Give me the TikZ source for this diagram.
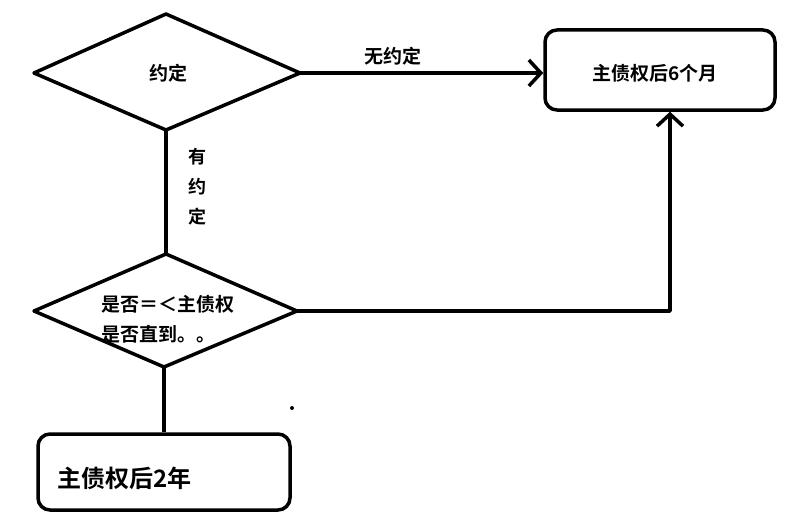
\documentclass[tikz,border=0pt]{standalone}
\usepackage{fontspec}
\setmainfont{Noto Sans CJK SC}[BoldFont={Noto Sans CJK SC Bold}]
\usetikzlibrary{arrows.meta,shapes.geometric}
\begin{document}
\begin{tikzpicture}[x=1pt,y=-1pt,
  ln/.style={line width=3.5pt,line join=round},
  arr/.style={ln,-{Straight Barb[length=12pt,width=26pt,line width=3.5pt]}},
  txt/.style={font=\bfseries\fontsize{19}{22}\selectfont,inner sep=0pt}]
\useasboundingbox (0,0) rectangle (806,527);
% diamonds
\coordinate (d1l) at (34,73); \coordinate (d1t) at (166,14);
\coordinate (d1r) at (300,73); \coordinate (d1b) at (166,130);
\draw[ln] (d1l) -- (d1t) -- (d1r) -- (d1b) -- cycle;
\node[txt] (t1) at (168,73) {约定};
\coordinate (d2l) at (34,311); \coordinate (d2t) at (166,254);
\coordinate (d2r) at (297,311); \coordinate (d2b) at (164,367);
\draw[ln] (d2l) -- (d2t) -- (d2r) -- (d2b) -- cycle;
\node[txt,anchor=west] (t2a) at (101,304) {是否＝＜主债权};
\node[txt,anchor=west] (t2b) at (101,334) {是否直到。。};
% boxes
\node[ln,draw,rounded corners=12pt,minimum width=230pt,minimum height=80pt,txt] (b1) at (660,70) {};
\node[txt] (t4) at (655,73) {主债权后6个月};
\node[ln,draw,rounded corners=12pt,minimum width=252pt,minimum height=76pt] (b2) at (164,472) {};
\node[txt,font=\bfseries\fontsize{24}{26}\selectfont,anchor=west] (t3) at (57,478) {主债权后2年};
% connectors
\draw[arr] (d1r) -- (b1.west |- d1r);
\node[txt] (lab1) at (393,56) {无约定};
\draw[ln] (d1b) -- (d2t);
\node[txt,align=center,font=\bfseries\fontsize{18}{30}\selectfont] (lab2) at (197,187) {有\\约\\定};
\coordinate (c1) at (670,311);
\draw[arr] (d2r) -- (c1) -- (c1 |- b1.south);
\draw[ln] (d2b) -- (b2.north -| d2b);
\fill (292,408) circle (2pt);
\end{tikzpicture}
\end{document}
